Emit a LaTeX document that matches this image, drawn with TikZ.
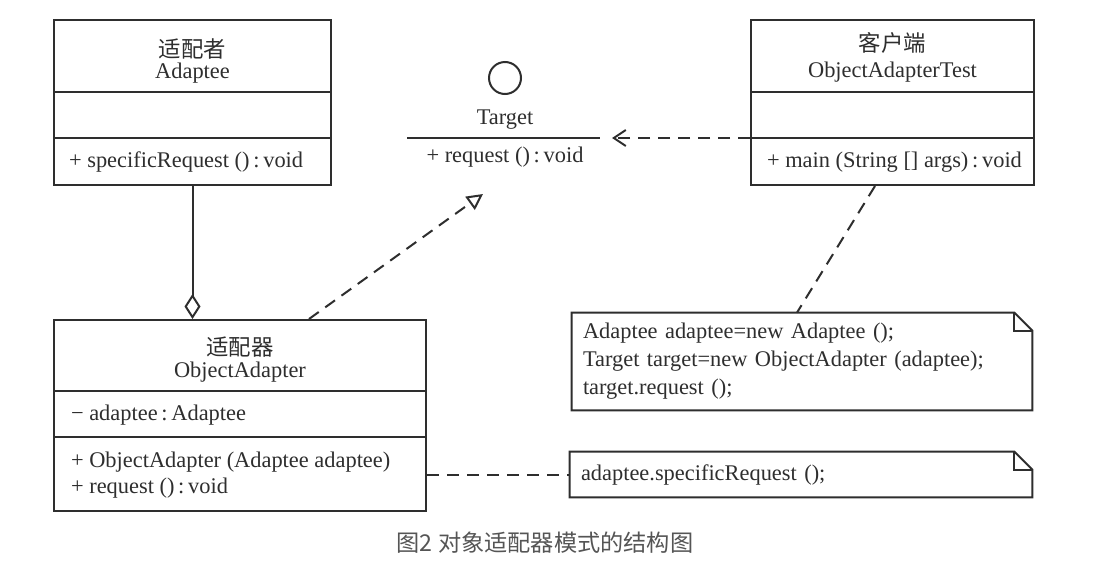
\documentclass[tikz,border=0pt]{standalone}
\usepackage{fontspec}
\setmainfont{Liberation Serif}
\newfontfamily\cjk{Noto Sans CJK SC}
\usepackage{xcolor}
\definecolor{ink}{HTML}{2E2E2E}
\definecolor{capgray}{HTML}{555555}
\usepackage{tikz}
\usetikzlibrary{arrows.meta,positioning,calc}
% folded corner of a note node
\newcommand{\notefold}[1]{%
  \draw[ln] (#1.south west) -- (#1.north west) -- ([xshift=-9pt]#1.north east)
    -- ([yshift=-9pt]#1.north east) -- (#1.south east) -- cycle;
  \draw[ln] ([xshift=-9pt]#1.north east) |- ([yshift=-9pt]#1.north east);}

\begin{document}
\begin{tikzpicture}[
  x=0.5pt,y=-0.5pt,
  every node/.style={font=\fontsize{11.2}{14}\selectfont,text=ink},
  ln/.style={draw=ink,line width=1pt},
  cls/.style={ln,rectangle,inner sep=0pt},
  notebx/.style={inner ysep=0pt,inner xsep=5.5pt,align=left},
  dsh/.style={ln,dash pattern=on 6pt off 4pt},
  agg/.style={ln,-{Diamond[open,length=12.5pt,width=8pt]}},
  real/.style={dsh,-{Triangle[open,length=8pt,width=8pt]}},
  dep/.style={dsh,-{Straight Barb[length=6pt,width=8pt,line width=1pt]}}
]
\useasboundingbox[fill=white] (0,0) rectangle (1109,584);

% Adaptee
\node[cls,minimum width=138.5pt,minimum height=82.5pt] (adaptee) at (192.5,102.5) {};
\draw[ln] (adaptee.west |- 0,92) -- (adaptee.east |- 0,92);
\draw[ln] (adaptee.west |- 0,138) -- (adaptee.east |- 0,138);
\node (adapteeCn) at (192.5,49) {\cjk 适配者};
\node (adapteeEn) at (192.5,73) {Adaptee};
\node[anchor=west] (adapteeOp) at (62,162) {+ specificRequest ()\,:\,void};

% Target interface
\node[ln,circle,minimum size=16pt,inner sep=0pt] (tcirc) at (505,78) {};
\node (tname) at (505,120) {Target};
\draw[ln] (407,138) coordinate (tl) -- (600,138) coordinate (tr);
\node (top) at (505,157) {+ request ()\,:\,void};
\coordinate (tgtdep) at (612,138);
\coordinate (tgtreal) at (483,194);

% client
\node[cls,minimum width=141.5pt,minimum height=82.5pt] (client) at (892.5,102.5) {};
\draw[ln] (client.west |- 0,92) -- (client.east |- 0,92);
\draw[ln] (client.west |- 0,138) -- (client.east |- 0,138);
\node (clientCn) at (892.5,43) {\cjk 客户端};
\node (clientEn) at (892.5,72) {ObjectAdapterTest};
\node[anchor=west] (clientOp) at (760,162) {+ main (String [] args)\,:\,void};

% adapter
\node[cls,minimum width=186pt,minimum height=95.5pt] (adapter) at (240,415.5) {};
\draw[ln] (adapter.west |- 0,391) -- (adapter.east |- 0,391);
\draw[ln] (adapter.west |- 0,437) -- (adapter.east |- 0,437);
\node (adapterCn) at (240,347) {\cjk 适配器};
\node (adapterEn) at (240,372) {ObjectAdapter};
\node[anchor=west] (adapterAt) at (64,415) {\char"2212\ adaptee\,:\,Adaptee};
\node[anchor=west] (adapterOp1) at (64,462) {+ ObjectAdapter (Adaptee adaptee)};
\node[anchor=west] (adapterOp2) at (64,488) {+ request ()\,:\,void};

% notes
\node[notebx,minimum width=230pt,minimum height=48.5pt,text width=219pt] (note1) at (802,361.5)
  {Adaptee adaptee=new Adaptee ();\\Target target=new ObjectAdapter (adaptee);\\target.request ();};
\notefold{note1}
\node[notebx,minimum width=231pt,minimum height=22.5pt,text width=220pt] (note2) at (801,474.5)
  {adaptee.specificRequest ();};
\notefold{note2}

% connectors
\draw[agg] (adaptee.south) -- (adaptee.south |- adapter.north);
\draw[real] ([xshift=128pt]adapter.north west) -- (tgtreal);
\draw[dep] (client.west |- tgtdep) -- (tgtdep);
\draw[dsh] ([xshift=-8.75pt]client.south) -- ([xshift=-2.5pt]note1.north);
\draw[dsh] (adapter.east |- note2.west) -- (note2.west);

\node[font=\cjk\fontsize{11.6}{14}\selectfont,text=capgray] (caption) at (545,543)
  {图2 对象适配器模式的结构图};
\end{tikzpicture}
\end{document}
